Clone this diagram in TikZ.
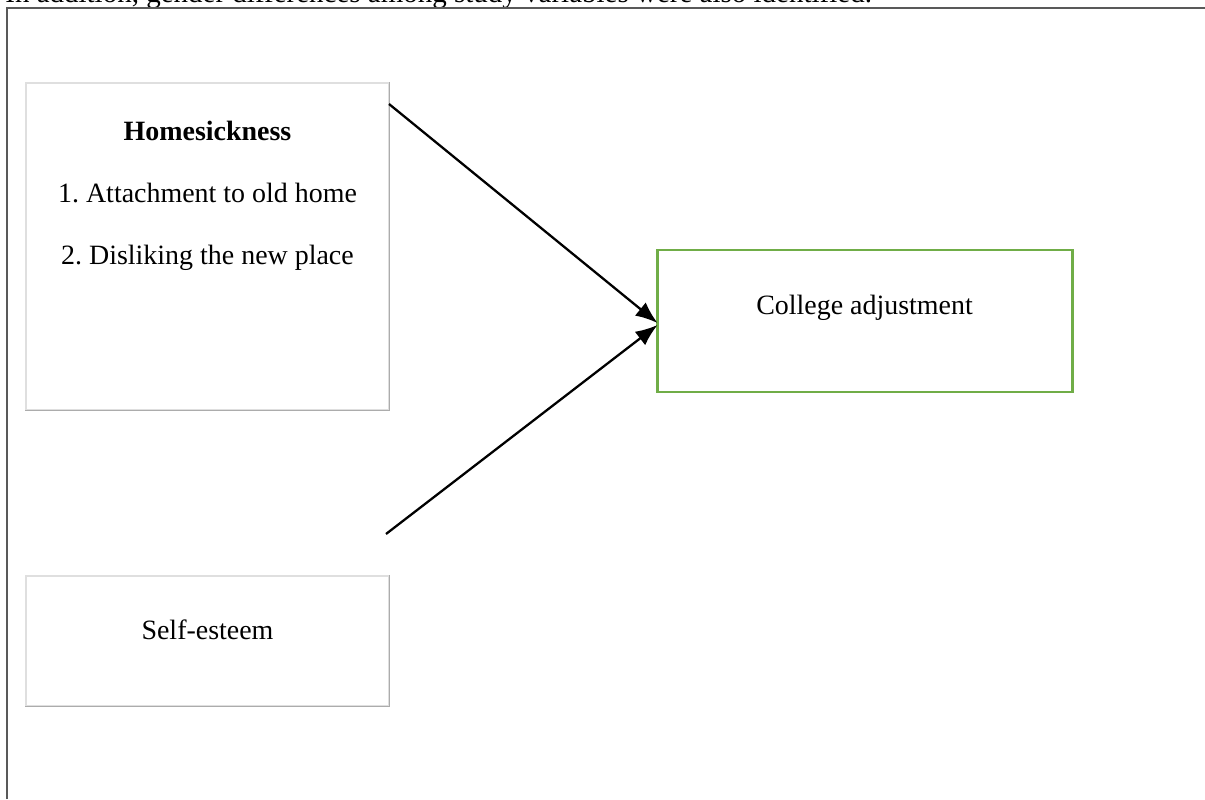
\documentclass[tikz,border=0pt]{standalone}
\usepackage{fontspec}
\setmainfont{Liberation Serif}
\usetikzlibrary{arrows.meta}
\definecolor{boxgreen}{HTML}{70AD47}
\definecolor{framegray}{HTML}{595959}

\begin{document}
\begin{tikzpicture}[
    txt/.style={font=\fontsize{15.9}{35.2}\selectfont, align=center, inner sep=0pt},
    leftbox/.style={draw=gray!25, line width=0.6pt, minimum width=7.26cm, inner sep=0pt},
    shade/.style={draw=gray!65, line width=1pt},
    arr/.style={line width=1.3pt, -{Latex[length=0.44cm,width=0.34cm]}}
  ]
    \useasboundingbox (0,0) rectangle (24.1,15.98);
    \clip (0,0) rectangle (24.1,15.98);
    \node[font=\fontsize{16.5}{20}\selectfont, inner sep=0pt, anchor=base west] (intro) at (0.1,15.92)
        {In addition, gender differences among study variables were also identified.};
    \draw[framegray, line width=0.8pt] (0.14,0) -- (0.14,15.82) -- (24.1,15.82);
    % left boxes
    \node[leftbox, minimum height=6.54cm] (hs) at (4.15,11.05) {};
    \draw[shade] (hs.north east) -- (hs.south east) -- (hs.south west);
    \node[txt] (hstext) at (4.15,12.06) {\textbf{Homesickness}\\1.\ Attachment to old home\\2.\ Disliking the new place};
    \node[leftbox, minimum height=2.6cm] (se) at (4.15,3.16) {};
    \draw[shade] (se.north east) -- (se.south east) -- (se.south west);
    \node[txt] (setext) at (4.15,3.38) {Self-esteem};
    % outcome
    \node[draw=boxgreen, line width=1.7pt, minimum width=8.3cm, minimum height=2.84cm] (ca) at (17.29,9.56) {};
    \node[txt] (catext) at (17.29,9.82) {College adjustment};
    % arrows
    \coordinate (hsout) at (7.78,13.9);
    \coordinate (seout) at (7.72,5.3);
    \draw[arr] (hsout) -- ([xshift=0.04cm,yshift=-0.04cm]ca.west);
    \draw[arr] (seout) -- ([xshift=0.04cm,yshift=-0.08cm]ca.west);
\end{tikzpicture}
\end{document}
